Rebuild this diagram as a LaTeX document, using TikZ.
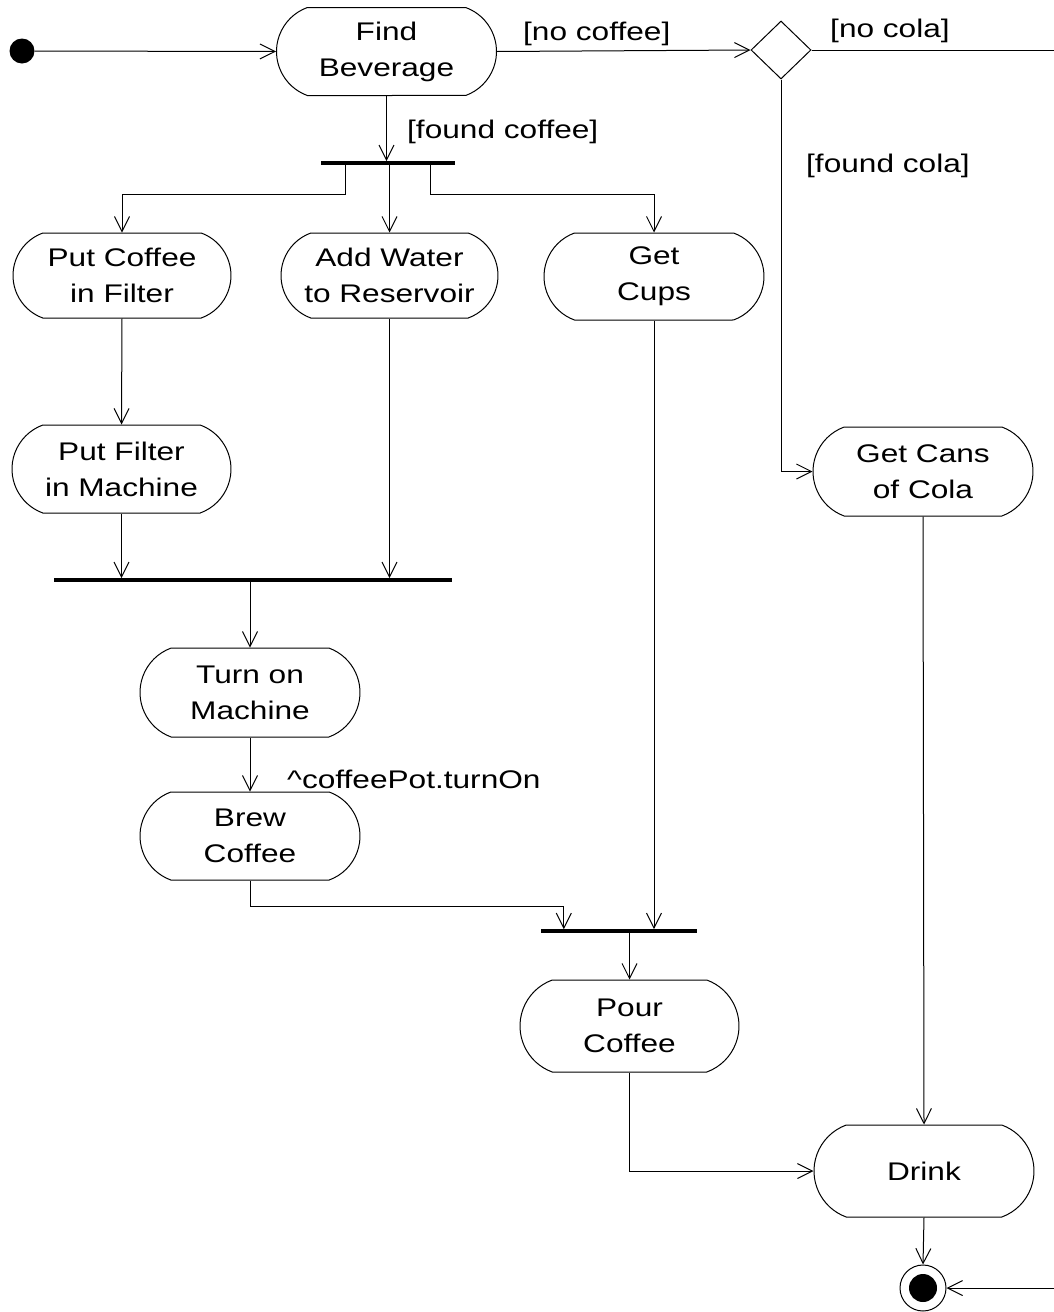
\documentclass[tikz,border=0pt]{standalone}
\usepackage{fontspec}
\setmainfont[FakeStretch=1.24]{Liberation Sans}
\usetikzlibrary{shapes.misc,shapes.geometric,arrows.meta}

\begin{document}
\begin{tikzpicture}[x=1pt,y=-1pt,
  font=\fontsize{25.5}{36}\selectfont,
  act/.style={draw, line width=1pt, rounded rectangle, rounded rectangle arc length=140,
              minimum width=220pt, minimum height=88pt, align=center, inner sep=0pt},
  bar/.style={fill=black, inner sep=0pt, minimum height=3.2pt},
  flow/.style={draw, line width=1pt, -{Straight Barb[length=15pt,width=15pt]}},
  plain/.style={draw, line width=1pt},
  guard/.style={anchor=base west, inner sep=0pt}]
\useasboundingbox (0,0) rectangle (1054,1312);

% start and end states
\node[circle, fill=black, minimum size=25pt, inner sep=0pt] (init) at (22,51) {};
\node[circle, draw, line width=1pt, minimum size=46pt, inner sep=0pt] (final) at (923,1288) {};
\fill (final.center) circle (14pt);

% activities
\node[act] (find)   at (386.5,51.5)  {Find\\Beverage};
\node[act, minimum width=218pt, minimum height=85pt] (coffee) at (122,275.5) {Put Coffee\\in Filter};
\node[act, minimum width=217pt, minimum height=85pt] (water)  at (389.5,275.5) {Add Water\\to Reservoir};
\node[act, minimum height=87pt] (cups)   at (654,276.5)  {Get\\Cups};
\node[act, minimum width=219pt] (filter) at (121.5,469) {Put Filter\\in Machine};
\node[act, minimum height=89pt] (turnon) at (250,692.5)  {Turn on\\Machine};
\node[act] (brew)   at (250,836)    {Brew\\Coffee};
\node[act, minimum width=219pt, minimum height=92pt] (pour) at (629.5,1026) {Pour\\Coffee};
\node[act, minimum height=89pt] (cola)   at (923,471.5)  {Get Cans\\of Cola};
\node[act, minimum height=92pt] (drink)  at (924,1171)   {Drink};

% decision
\node[diamond, draw, line width=1pt, inner sep=0pt, minimum width=60pt, minimum height=58pt] (dec) at (781,50) {};

% synchronisation bars
\node[bar, minimum width=134pt] (fork1) at (388,163) {};
\node[bar, minimum width=398pt] (join2) at (253,580) {};
\node[bar, minimum width=156pt] (join3) at (619,931) {};

% loose ends at the right border
\coordinate (outtop) at (1054,50);
\coordinate (inbot)  at (1054,1288);

% transitions
\draw[flow] (init) -- (find.west);
\draw[flow] (find.east) -- (dec.west);
\draw[plain] (dec.east) -- (outtop);
\draw[flow] (dec.south) |- (cola.west);
\draw[flow] (find.south) -- (find.south |- fork1.north);

\draw[flow] ([xshift=25pt]fork1.south west) -- ++(0,30) -| (coffee.north);
\draw[flow] (water.north |- fork1.south) -- (water.north);
\draw[flow] ([xshift=-25pt]fork1.south east) -- ++(0,30) -| (cups.north);

\draw[flow] (coffee.south) -- (filter.north);
\draw[flow] (filter.south) -- (filter.south |- join2.north);
\draw[flow] (water.south) -- (water.south |- join2.north);
\draw[flow] (turnon.north |- join2.south) -- (turnon.north);
\draw[flow] (turnon.south) -- (brew.north);

\draw[flow] (brew.south) -- ++(0,26) -| ([xshift=23pt]join3.north west);
\draw[flow] (cups.south) -- (cups.south |- join3.north);
\draw[flow] (pour.north |- join3.south) -- (pour.north);
\draw[flow] (pour.south) |- (drink.west);
\draw[flow] (cola.south) -- (drink.north);
\draw[flow] (drink.south) -- (final.north);
\draw[flow] (inbot) -- (final.east);

% guards and actions
\node[guard] (gnocoffee)    at (523,40)  {[no coffee]};
\node[guard] (gnocola)      at (830,37)  {[no cola]};
\node[guard] (gfoundcola)   at (806,172) {[found cola]};
\node[guard] (gfoundcoffee) at (407,138) {[found coffee]};
\node[guard] (aturnon)      at (287,788) {\textasciicircum coffeePot.turnOn};
\end{tikzpicture}
\end{document}
